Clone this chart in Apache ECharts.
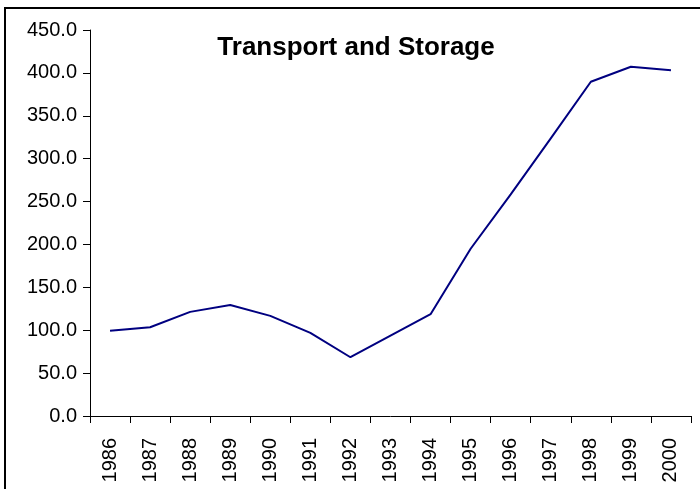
<!DOCTYPE html>
<html>
<head>
<meta charset="utf-8">
<script src="https://cdn.jsdelivr.net/npm/echarts@6/dist/echarts.min.js"></script>
<style>
  html, body { margin: 0; padding: 0; background: #fff; }
  #main { width: 700px; height: 489px; }
</style>
</head>
<body>
<div id="main"></div>
<script>
var years = ['1986', '1987', '1988', '1989', '1990', '1991', '1992', '1993',
    '1994', '1995', '1996', '1997', '1998', '1999', '2000'];
var values = [99.5, 103.5, 121.4, 129.5, 116.7, 96.9, 68.5, 93.8,
    118.7, 195.0, 258.3, 323.7, 389.7, 407.2, 403.0];

var myChart = echarts.init(document.getElementById('main'));
var option = {
    backgroundColor: '#fff',
    animation: false,
    title: {
        text: 'Transport and Storage',
        left: 351,
        textAlign: 'center',
        top: 30,
        textStyle: {
            fontFamily: 'Liberation Sans',
            fontWeight: 'bold',
            fontSize: 26,
            color: '#000'
        }
    },
    // chart border, only left and top show in the picture
    graphic: [{
        type: 'polyline',
        shape: { points: [[5, 489], [5, 8], [700, 8]] },
        style: { stroke: '#000', lineWidth: 2, fill: null }
    }],
    grid: {
        left: 90,
        right: 9,
        top: 30,
        bottom: 73
    },
    xAxis: {
        type: 'category',
        data: years,
        boundaryGap: true,
        axisLine: { lineStyle: { color: '#000', width: 1 } },
        axisTick: { show: true, length: 7, lineStyle: { color: '#000' } },
        axisLabel: {
            rotate: 90,
            margin: 22,
            interval: 0,
            fontFamily: 'Liberation Sans',
            fontSize: 20,
            color: '#000'
        },
        splitLine: { show: false }
    },
    yAxis: {
        type: 'value',
        min: 0,
        max: 450,
        interval: 50,
        axisLine: { show: true, lineStyle: { color: '#000', width: 1 } },
        axisTick: { show: true, length: 7, lineStyle: { color: '#000' } },
        axisLabel: {
            margin: 13,
            fontFamily: 'Liberation Sans',
            fontSize: 20,
            color: '#000',
            formatter: function (v) { return v.toFixed(1); }
        },
        splitLine: { show: false }
    },
    series: [{
        type: 'line',
        data: values,
        showSymbol: false,
        symbol: 'none',
        lineStyle: { color: '#000080', width: 2 }
    }]
};
myChart.setOption(option);
</script>
</body>
</html>
